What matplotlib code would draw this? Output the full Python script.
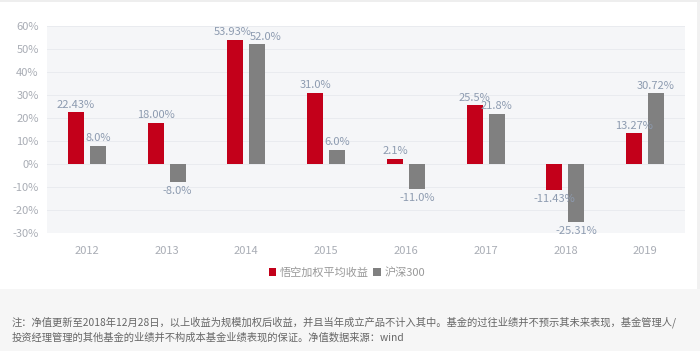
import numpy as np
import matplotlib
matplotlib.use("Agg")
import matplotlib.pyplot as plt
from matplotlib.patches import Rectangle

plt.rcParams["font.family"] = ["Noto Sans CJK SC", "DejaVu Sans"]

years = ["2012", "2013", "2014", "2015", "2016", "2017", "2018", "2019"]
wukong = [22.43, 18.00, 53.93, 31.0, 2.1, 25.5, -11.43, 13.27]
hs300 = [8.0, -8.0, 52.0, 6.0, -11.0, 21.8, -25.31, 30.72]
wukong_labels = ["22.43%", "18.00%", "53.93%", "31.0%", "2.1%", "25.5%", "-11.43%", "13.27%"]
hs300_labels = ["8.0%", "-8.0%", "52.0%", "6.0%", "-11.0%", "21.8%", "-25.31%", "30.72%"]
series_names = ["悟空加权平均收益", "沪深300"]
note = ("注：净值更新至2018年12月28日，以上收益为规模加权后收益，并且当年成立产品不计入其中。基金的过往业绩并不预示其未来表现，基金管理人/\n"
        "投资经理管理的其他基金的业绩并不构成本基金业绩表现的保证。净值数据来源：wind")

RED = "#c3001a"
GREY = "#808080"
LABEL_C = "#8d9bb0"
TICK_C = "#a9adb5"

fig = plt.figure(figsize=(7, 3.51), dpi=100)
fig.patch.set_facecolor("white")

# grey note band at bottom, plus the card's faint frame
fig.patches.append(Rectangle((0, 0), 1, 62 / 351, transform=fig.transFigure,
                             facecolor="#f6f6f6", edgecolor="none", zorder=0))
fig.patches.append(Rectangle((697 / 700, 62 / 351), 3 / 700, 1, transform=fig.transFigure,
                             facecolor="#f1f1f1", edgecolor="none", zorder=0))
fig.patches.append(Rectangle((0, 349 / 351), 1, 2 / 351, transform=fig.transFigure,
                             facecolor="#eeeeee", edgecolor="none", zorder=0))

ax = fig.add_axes([47 / 700, 118 / 351, 638 / 700, 207 / 351])
ax.set_facecolor("#f5f6f8")

x = np.arange(len(years))
w = 0.2
off = 0.137
ax.bar(x - off, wukong, width=w, color=RED, zorder=3, label=series_names[0])
ax.bar(x + off, hs300, width=w, color=GREY, zorder=3, label=series_names[1])

for k, (xs, vals, labs) in enumerate([(x - off, wukong, wukong_labels),
                                      (x + off, hs300, hs300_labels)]):
    for xi, v, lab in zip(xs, vals, labs):
        # in 2014 the two labels sit side by side; push them apart a little
        if v > 50:
            xi = xi + (-0.03 if k == 0 else 0.1)
        if v >= 0:
            ax.text(xi, v + 1.2, lab, ha="center", va="bottom", color=LABEL_C, fontsize=8,
                    zorder=4)
        else:
            ax.text(xi, v - 1.5, lab, ha="center", va="top", color=LABEL_C, fontsize=8,
                    zorder=4)

ax.set_xlim(-0.5, len(years) - 0.5)
ax.set_ylim(-30, 60)
ax.set_yticks(np.arange(-30, 61, 10))
ax.set_yticklabels([f"{t}%" for t in range(-30, 61, 10)])
ax.set_xticks(x)
ax.set_xticklabels(years)
ax.tick_params(axis="both", length=0, colors=TICK_C, labelsize=8)
ax.tick_params(axis="x", pad=9)
ax.tick_params(axis="y", pad=6)
ax.grid(axis="y", color="#e9ebef", linewidth=0.7, zorder=0)
for s in ax.spines.values():
    s.set_visible(False)

ax.legend(loc="upper center", bbox_to_anchor=(0.47, -0.115), ncol=2, frameon=False,
          fontsize=8, handlelength=0.7, handleheight=0.7, handletextpad=0.3,
          columnspacing=0.4, labelcolor="#999999")

fig.text(12 / 700, (351 - 316) / 351, note, fontsize=7.4, color="#666666",
         va="top", ha="left", linespacing=1.55)

fig.savefig("out.png", dpi=100)
